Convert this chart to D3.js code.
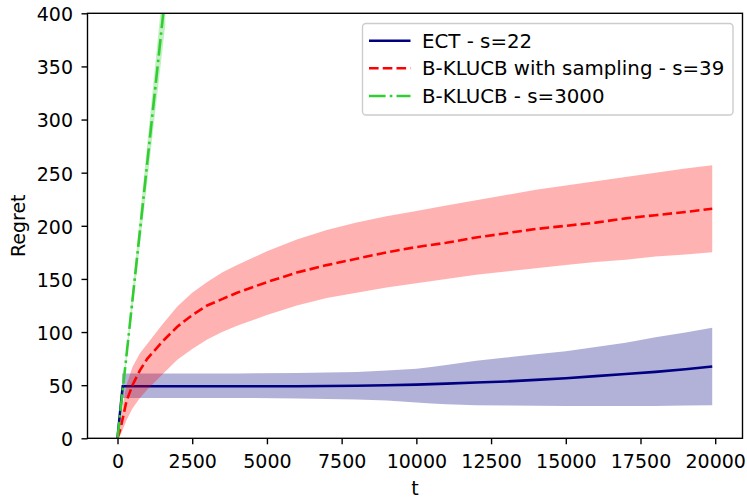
<!DOCTYPE html>
<html><head><meta charset="utf-8">
<script src="https://cdn.jsdelivr.net/npm/d3@7"></script>
<style>body{margin:0;background:#fff}svg{display:block}text{font-family:"DejaVu Sans",sans-serif;fill:#000}</style>
</head><body><svg id="c" width="747" height="498"></svg>
<script>
// ---- data ----
const xTicks = [0, 2500, 5000, 7500, 10000, 12500, 15000, 17500, 20000];
const yTicks = [0, 50, 100, 150, 200, 250, 300, 350, 400];

const ectT    = [0, 60, 120, 175, 250, 500, 1000, 2000, 4000, 6000, 8000, 9000, 10000, 11000, 12000, 13000, 14000, 15000, 16000, 17000, 18000, 19000, 19900];
const ectMean = [0, 17, 34, 49, 49, 49, 49, 49, 49, 49, 49.5, 50, 50.5, 51.5, 52.5, 53.5, 55, 56.5, 58.5, 60.5, 62.5, 65, 67.5];
const ectBandT = [150, 1000, 2000, 4000, 6000, 7000, 8000, 9000, 10000, 10500, 11000, 12000, 13000, 14000, 15000, 16000, 17000, 18000, 19000, 19900];
const ectHigh  = [61, 61, 61, 61, 61.5, 62, 62.5, 63.7, 65.5, 67, 69, 73, 76, 79, 82, 86, 90, 95, 99.5, 104];
const ectLow   = [38, 38, 38, 38, 37.5, 37, 36.5, 35.5, 33.8, 32.8, 32, 31, 30.8, 30.7, 30.5, 30.4, 30.4, 30.5, 30.8, 31];

const bkT    = [0, 100, 200, 300, 500, 750, 1000, 1500, 2000, 2500, 3000, 3500, 4000, 5000, 6000, 7000, 8000, 9000, 10000, 11000, 12000, 13000, 14000, 15000, 16000, 17000, 18000, 19000, 19900];
const bkMean = [0, 9, 22, 35, 50, 64, 75, 91, 105, 116, 125, 131, 137, 147, 156, 163, 169, 175, 180, 184, 189, 193, 197, 200, 203, 207, 210, 213, 216];
const bkHigh = [0, 15, 35, 50, 67, 80, 89, 107, 124, 137, 147, 156, 163, 176, 187, 196, 203, 209, 214, 219, 224, 229, 234, 238, 242, 246, 250, 254, 257];
const bkLow  = [0, 3, 10, 17, 28, 38, 46, 60, 74, 84, 93, 100, 106, 116, 125, 132, 137, 142, 146, 150, 154, 157, 160, 163, 166, 168, 171, 173, 175];

const grT    = [0, 400, 800, 1200, 1600];
const grMean = [0, 104, 208, 313, 418];
const grHigh = [0, 111, 222, 334, 447];
const grLow  = [0, 97, 194, 292, 389];

const labels = ["ECT - s=22", "B-KLUCB with sampling - s=39", "B-KLUCB - s=3000"];

// ---- layout ----
const L = 87.5, R = 742.5, T = 13.3, B = 438.3;
const svg = d3.select("#c");
const x = d3.scaleLinear().domain([-1004, 20913]).range([L, R]);
const y = d3.scaleLinear().domain([0, 400]).range([B, T]);
const FS = "19px";
const LFS = "19.8px";

svg.append("defs").append("clipPath").attr("id", "clip")
  .append("rect").attr("x", L).attr("y", T).attr("width", R - L).attr("height", B - T);
const g = svg.append("g").attr("clip-path", "url(#clip)");

function zip(ts, a, b) { return ts.map((t, i) => ({t, a: a[i], b: b ? b[i] : 0})); }
const area = d3.area().x(d => x(d.t)).y0(d => y(d.a)).y1(d => y(d.b));
const line = d3.line().x(d => x(d.t)).y(d => y(d.a));

// ECT
g.append("path").attr("d", area(zip(ectBandT, ectLow, ectHigh))).attr("fill", "navy").attr("fill-opacity", 0.3);
g.append("path").attr("d", line(zip(ectT, ectMean))).attr("fill", "none").attr("stroke", "navy").attr("stroke-width", 2.6);
// B-KLUCB sampling
g.append("path").attr("d", area(zip(bkT, bkLow, bkHigh))).attr("fill", "red").attr("fill-opacity", 0.3);
g.append("path").attr("d", line(zip(bkT, bkMean))).attr("fill", "none").attr("stroke", "red").attr("stroke-width", 2.6)
  .attr("stroke-dasharray", "9.6,4.15");
// B-KLUCB
g.append("path").attr("d", area(zip(grT, grLow, grHigh))).attr("fill", "limegreen").attr("fill-opacity", 0.3);
g.append("path").attr("d", line(zip(grT, grMean))).attr("fill", "none").attr("stroke", "limegreen").attr("stroke-width", 2.6)
  .attr("stroke-dasharray", "16.6,4.15,2.6,4.15");

// axes frame
svg.append("rect").attr("x", L).attr("y", T).attr("width", R - L).attr("height", B - T)
  .attr("fill", "none").attr("stroke", "#000").attr("stroke-width", 1.38);

// x axis
const xa = svg.append("g").attr("transform", `translate(0,${B})`)
  .call(d3.axisBottom(x).tickValues(xTicks).tickFormat(d3.format("d")).tickSize(6).tickPadding(10));
xa.select(".domain").remove();
xa.selectAll("line").attr("stroke-width", 1.38);
xa.selectAll("text").attr("font-size", FS).attr("font-family", "DejaVu Sans");

// y axis
const ya = svg.append("g").attr("transform", `translate(${L},0)`)
  .call(d3.axisLeft(y).tickValues(yTicks).tickFormat(d3.format("d")).tickSize(6).tickPadding(8.5));
ya.select(".domain").remove();
ya.selectAll("line").attr("stroke-width", 1.38);
ya.selectAll("text").attr("font-size", FS).attr("font-family", "DejaVu Sans").attr("dy", "0.39em");

svg.append("text").attr("x", (L + R) / 2).attr("y", 495).attr("text-anchor", "middle").attr("font-size", FS).text("t");
svg.append("text").attr("transform", `translate(25,${(T + B) / 2}) rotate(-90)`).attr("text-anchor", "middle")
  .attr("font-size", FS).text("Regret");

// legend
const lg = svg.append("g");
lg.append("rect").attr("x", 362.5).attr("y", 23.5).attr("width", 370.5).attr("height", 91.5).attr("rx", 3.5)
  .attr("fill", "#fff").attr("fill-opacity", 0.8).attr("stroke", "#cccccc").attr("stroke-width", 1.38);
const styles = [
  {c: "navy", d: null},
  {c: "red", d: "9.6,4.15"},
  {c: "limegreen", d: "16.6,4.15,2.6,4.15"}
];
const rowY = [40.7, 68.3, 96];
labels.forEach((lab, i) => {
  const ln = lg.append("line").attr("x1", 369).attr("x2", 410.5).attr("y1", rowY[i]).attr("y2", rowY[i])
    .attr("stroke", styles[i].c).attr("stroke-width", 2.6);
  if (styles[i].d) ln.attr("stroke-dasharray", styles[i].d);
  lg.append("text").attr("x", 422).attr("y", rowY[i]).attr("dy", "0.36em").attr("font-size", LFS).text(lab);
});
</script></body></html>
